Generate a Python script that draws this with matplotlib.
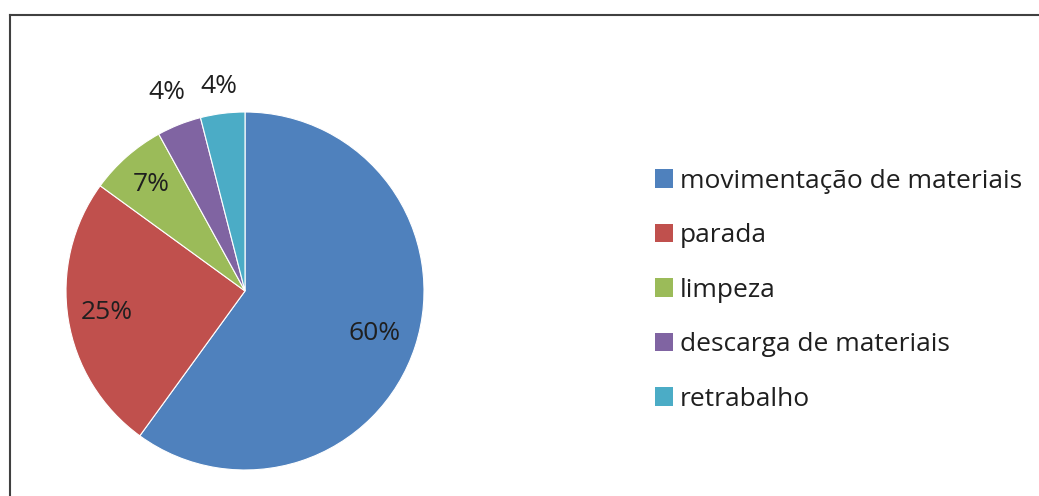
import numpy as np
import matplotlib.pyplot as plt
from matplotlib.patches import Patch
from matplotlib.lines import Line2D

# dados do gráfico
categorias = ['movimentação de materiais', 'parada', 'limpeza',
              'descarga de materiais', 'retrabalho']
valores = [60, 25, 7, 4, 4]
cores = ['#4F81BD', '#C0504D', '#9BBB59', '#8064A2', '#4BACC6']
# distância do rótulo ao centro (fração do raio)
dist_rotulo = [0.76, 0.78, 0.79, 1.19, 1.15]

plt.rcParams['font.family'] = ['Open Sans', 'DejaVu Sans']

fig = plt.figure(figsize=(10.39, 4.96), dpi=100)
ax = fig.add_axes([66 / 1039, 26 / 496, 358 / 1039, 358 / 496])

wedges, _ = ax.pie(valores, colors=cores, startangle=90, counterclock=False,
                   wedgeprops={'edgecolor': 'white', 'linewidth': 0.8})
ax.set_xlim(-1, 1)
ax.set_ylim(-1, 1)
ax.set_aspect('equal')

# rótulos de porcentagem
for w, v, d in zip(wedges, valores, dist_rotulo):
    ang = np.deg2rad((w.theta1 + w.theta2) / 2)
    ax.text(d * np.cos(ang), d * np.sin(ang), f'{v}%', ha='center', va='center',
            fontsize=19, color='#1f1f1f', clip_on=False)

# legenda
handles = [Patch(facecolor=c, edgecolor='none') for c in cores]
fig.legend(handles, categorias, loc='center left', bbox_to_anchor=(0.630, 0.415),
           frameon=False, fontsize=19, handlelength=0.7, handleheight=0.7,
           handletextpad=0.25, labelspacing=1.12, borderpad=0, borderaxespad=0,
           labelcolor='#1f1f1f')

# moldura
fig.add_artist(Line2D([10 / 1039, 10 / 1039], [0, 1 - 15 / 496], transform=fig.transFigure,
                      color='#404040', linewidth=1.5))
fig.add_artist(Line2D([10 / 1039, 1], [1 - 15 / 496, 1 - 15 / 496], transform=fig.transFigure,
                      color='#404040', linewidth=1.5))

fig.savefig('out.png', dpi=100)
